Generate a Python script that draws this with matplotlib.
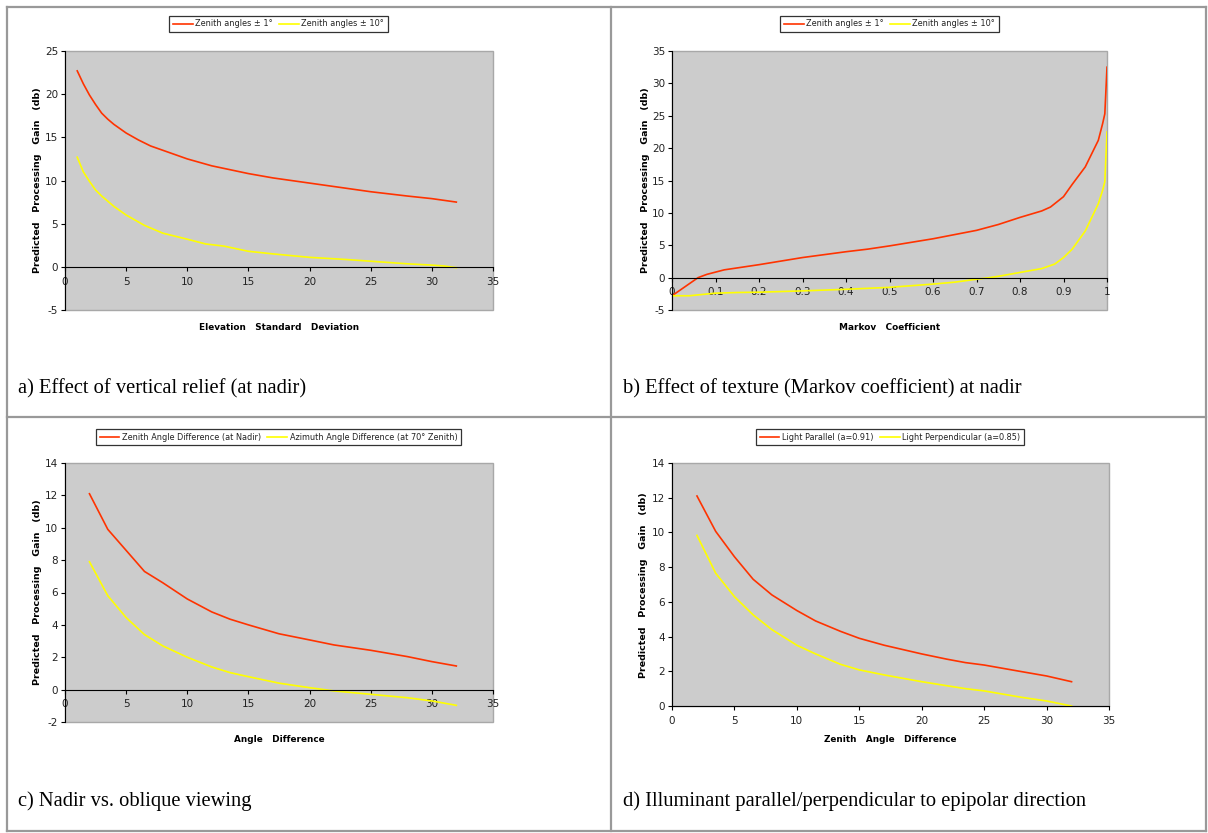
import numpy as np
import matplotlib.pyplot as plt
from matplotlib.lines import Line2D
from matplotlib.ticker import FuncFormatter

plt.rcParams['axes.unicode_minus'] = False

# DATA
# a) vertical relief
a_x_red = [1, 1.5, 2, 2.5, 3, 3.5, 4, 5, 6, 7, 8, 10, 12, 15, 17, 20, 23, 25, 28, 30, 32]
a_y_red = [22.7, 21.2, 19.9, 18.8, 17.8, 17.1, 16.5, 15.5, 14.7, 14.0, 13.5, 12.5, 11.7, 10.8, 10.3, 9.7, 9.1, 8.7, 8.2, 7.9, 7.5]
a_x_yel = [1, 1.5, 2, 2.5, 3, 4, 5, 6.5, 8, 10, 11.5, 13, 15, 17, 20, 23, 25, 28, 30, 31, 32]
a_y_yel = [12.7, 11.0, 9.9, 8.9, 8.2, 7.0, 6.0, 4.8, 3.9, 3.2, 2.65, 2.4, 1.8, 1.5, 1.1, 0.85, 0.65, 0.35, 0.2, 0.1, -0.1]

# b) Markov coefficient
b_x_red = [0, 0.03, 0.06, 0.08, 0.12, 0.15, 0.2, 0.3, 0.4, 0.45, 0.5, 0.6, 0.7, 0.75, 0.8, 0.85,
           0.87, 0.9, 0.92, 0.95, 0.98, 0.99, 0.995, 1.0]
b_y_red = [-2.8, -1.4, 0.0, 0.5, 1.2, 1.5, 2.0, 3.1, 4.0, 4.4, 4.9, 6.0, 7.3, 8.2, 9.3, 10.3,
           10.9, 12.5, 14.4, 17.1, 21.2, 23.8, 25.3, 32.5]
b_x_yel = [0, 0.04, 0.1, 0.15, 0.2, 0.3, 0.4, 0.5, 0.6, 0.65, 0.7, 0.73, 0.75, 0.8, 0.85,
           0.88, 0.9, 0.92, 0.95, 0.98, 0.99, 0.995, 1.0]
b_y_yel = [-2.8, -2.8, -2.4, -2.3, -2.25, -2.05, -1.8, -1.5, -1.0, -0.7, -0.25, 0.0, 0.2, 0.8, 1.4,
           2.1, 3.1, 4.4, 7.2, 11.4, 13.5, 14.8, 22.5]

# c) nadir vs oblique
c_x = [2, 3.5, 5, 6.5, 8, 10, 12, 13.5, 15, 17.5, 20, 22, 25, 28, 30, 32]
c_y_red = [12.1, 9.9, 8.6, 7.3, 6.6, 5.6, 4.8, 4.35, 4.0, 3.45, 3.07, 2.76, 2.43, 2.04, 1.73, 1.46]
c_y_yel = [7.9, 5.8, 4.45, 3.4, 2.7, 2.0, 1.4, 1.05, 0.8, 0.4, 0.12, -0.08, -0.29, -0.5, -0.7, -0.97]

# d) illuminant direction
d_x = [2, 3.5, 5, 6.5, 8, 10, 11.5, 13.5, 15, 17, 20, 22, 23.5, 25, 28, 30, 32]
d_y_red = [12.1, 10.06, 8.6, 7.3, 6.4, 5.5, 4.9, 4.3, 3.9, 3.5, 3.0, 2.7, 2.5, 2.36, 1.98, 1.73, 1.4]
d_y_yel = [9.83, 7.65, 6.3, 5.25, 4.4, 3.5, 3.0, 2.4, 2.08, 1.79, 1.4, 1.17, 1.0, 0.87, 0.5, 0.29, 0.0]

legend_ab = ['Zenith angles \u00b1 1\u00b0', 'Zenith angles \u00b1 10\u00b0']
legend_c = ['Zenith Angle Difference (at Nadir)', 'Azimuth Angle Difference (at 70\u00b0 Zenith)']
legend_d = ['Light Parallel (a=0.91)', 'Light Perpendicular (a=0.85)']

W, H = 1208, 833
RED = '#ff3300'
YEL = '#ffff00'
fig = plt.figure(figsize=(W / 100, H / 100), dpi=100)


def fx(px):
    return px / W


def fy(py):
    return 1 - py / H


def make_axes(l, r, t, b):
    return fig.add_axes([fx(l), fy(b), fx(r - l), (b - t) / H])


def style(ax, xlim, ylim, yticks, xticks, zero_axis=True):
    ax.set_facecolor('#cccccc')
    ax.patch.set_edgecolor('#a8a8a8')
    ax.patch.set_linewidth(1.0)
    ax.set_xlim(*xlim)
    ax.set_ylim(*ylim)
    ax.set_yticks(yticks)
    ax.set_xticks(xticks)
    for s in ['top', 'right']:
        ax.spines[s].set_visible(False)
    ax.spines['left'].set_color('black')
    ax.spines['bottom'].set_color('black')
    if zero_axis:
        ax.spines['bottom'].set_position(('data', 0))
    ax.tick_params(length=3, width=0.8, labelsize=7.5, labelcolor='#222222', pad=2)
    ax.tick_params(axis='x', pad=4)


def add_legend(ax, labels, cx, cy):
    handles = [Line2D([], [], color=RED, lw=1.2), Line2D([], [], color=YEL, lw=1.2)]
    leg = ax.legend(handles, labels, loc='center', bbox_to_anchor=(fx(cx), fy(cy)),
                    bbox_transform=fig.transFigure, ncol=2, fontsize=5.9, frameon=True,
                    fancybox=False, edgecolor='black', handlelength=2.4, handletextpad=0.3,
                    columnspacing=0.8, borderpad=0.45, borderaxespad=0)
    leg.get_frame().set_linewidth(0.9)
    for t in leg.get_texts():
        t.set_color('#222222')


def labels(xlab, xl_pos, yl_pos, caption, cap_pos):
    fig.text(fx(xl_pos[0]), fy(xl_pos[1]), xlab, ha='center', va='center',
             fontsize=6.4, fontweight='bold')
    fig.text(fx(yl_pos[0]), fy(yl_pos[1]), 'Predicted   Processing   Gain   (db)',
             ha='center', va='center', rotation=90, fontsize=6.8, fontweight='bold')
    fig.text(fx(cap_pos[0]), fy(cap_pos[1]), caption, ha='left', va='center',
             fontsize=14.8, family='Liberation Serif')


# a)
ax = make_axes(65, 493, 51, 310)
ax.plot(a_x_red, a_y_red, color=RED, lw=1.2)
ax.plot(a_x_yel, a_y_yel, color=YEL, lw=1.2)
style(ax, (0, 35), (-5, 25), range(-5, 26, 5), range(0, 36, 5))
add_legend(ax, legend_ab, 278.5, 24)
labels('Elevation   Standard   Deviation', (279, 328), (38, 180),
       'a) Effect of vertical relief (at nadir)', (18, 389))

# b)
ax = make_axes(672, 1107, 51, 310)
ax.plot(b_x_red, b_y_red, color=RED, lw=1.2)
ax.plot(b_x_yel, b_y_yel, color=YEL, lw=1.2)
style(ax, (0, 1), (-5, 35), range(-5, 36, 5), np.arange(0, 1.01, 0.1))
ax.xaxis.set_major_formatter(FuncFormatter(lambda v, p: '%g' % round(v, 1)))
add_legend(ax, legend_ab, 889.5, 24)
labels('Markov   Coefficient', (890, 328), (645, 180),
       'b) Effect of texture (Markov coefficient) at nadir', (623, 389))

# c)
ax = make_axes(65, 493, 463, 722)
ax.plot(c_x, c_y_red, color=RED, lw=1.2)
ax.plot(c_x, c_y_yel, color=YEL, lw=1.2)
style(ax, (0, 35), (-2, 14), range(-2, 15, 2), range(0, 36, 5))
add_legend(ax, legend_c, 278.5, 437)
labels('Angle   Difference', (279, 740), (38, 592),
       'c) Nadir vs. oblique viewing', (18, 801))

# d)
ax = make_axes(672, 1109, 463, 706)
ax.plot(d_x, d_y_red, color=RED, lw=1.2)
ax.plot(d_x, d_y_yel, color=YEL, lw=1.2)
style(ax, (0, 35), (0, 14), range(0, 15, 2), range(0, 36, 5), zero_axis=False)
add_legend(ax, legend_d, 890, 437)
labels('Zenith   Angle   Difference', (890, 740), (644, 585),
       'd) Illuminant parallel/perpendicular to epipolar direction', (623, 801))

# cell borders
for x in [7, 611, 1206]:
    fig.add_artist(Line2D([fx(x), fx(x)], [fy(7), fy(831)], color='#999999', lw=1.6))
for y in [7, 417, 831]:
    fig.add_artist(Line2D([fx(7), fx(1206)], [fy(y), fy(y)], color='#999999', lw=1.6))

fig.savefig('out.png', dpi=100)
